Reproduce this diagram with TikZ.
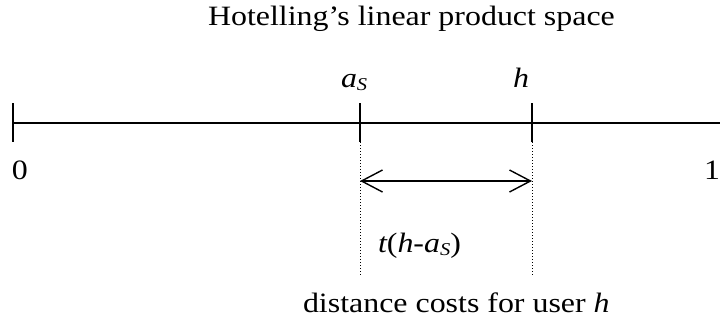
\documentclass[tikz,border=0pt]{standalone}
\usepackage{fontspec}
\usepackage{graphicx}
\setmainfont{Liberation Serif}
\usetikzlibrary{arrows.meta}
\newcommand{\sx}[1]{\scalebox{1.14}[1]{#1}}
\newcommand{\subS}{\raisebox{-3pt}{\fontsize{18}{20}\selectfont\itshape S}}
\begin{document}
\begin{tikzpicture}[x=1pt,y=-1pt,
  lbl/.style={inner sep=0pt,outer sep=0pt,font=\fontsize{28}{32}\selectfont},
  axis/.style={line width=1.4pt},
  tickline/.style={line width=1.4pt},
  guide/.style={line width=0.9pt,dash pattern=on 1pt off 2pt},
  dimarrow/.style={line width=1.4pt,{Straight Barb[length=21pt,width=22pt]}-{Straight Barb[length=21pt,width=22pt]}}]
\useasboundingbox (0,0) rectangle (720,322);
% coordinates
\coordinate (L) at (13,123);
\coordinate (R) at (720,123);
\coordinate (Lt) at (13,103);
\coordinate (Lb) at (13,142);
\coordinate (At) at (360,103);
\coordinate (Ab) at (360,142);
\coordinate (Ht) at (532,103);
\coordinate (Hb) at (532,142);
\coordinate (Ae) at (360,275);
\coordinate (He) at (532,275);
\coordinate (Aa) at (360,181);
\coordinate (Ha) at (532,181);
% texts
\node[lbl,anchor=base west] (title) at (208,25) {\sx{Hotelling’s linear product space}};
\node[lbl,anchor=base west] (aS) at (341,87) {\sx{\itshape a\subS}};
\node[lbl,anchor=base west] (hl) at (513,87) {\sx{\itshape h}};
\node[lbl,anchor=base west] (zero) at (12,179) {\sx{0}};
\node[lbl,anchor=base east] (one) at (720,179) {\sx{1}};
\node[lbl,anchor=base west] (cost) at (378,252) {\sx{\itshape t\upshape(\itshape h-a\subS\upshape)}};
\node[lbl,anchor=base west] (dist) at (303,312) {\sx{distance costs for user \itshape h}};
% lines
\draw[axis] (L) -- (R);
\draw[tickline] (Lt) -- (Lb);
\draw[tickline] (At) -- (Ab);
\draw[tickline] (Ht) -- (Hb);
\draw[guide] (Ab) -- (Ae);
\draw[guide] (Hb) -- (He);
\draw[dimarrow] (Aa) -- (Ha);
\end{tikzpicture}
\end{document}
